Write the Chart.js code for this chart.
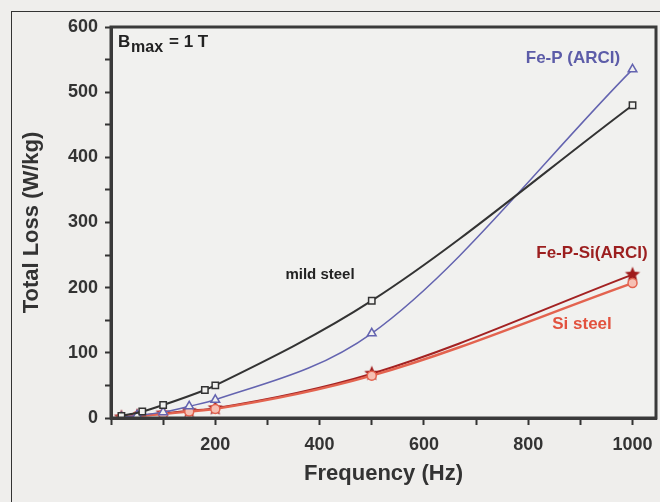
<!DOCTYPE html>
<html>
<head>
<meta charset="utf-8">
<script src="https://cdn.jsdelivr.net/npm/chart.js@4/dist/chart.umd.min.js"></script>
<style>
  html, body { margin: 0; padding: 0; background: #efeeec; }
  #wrap { width: 660px; height: 502px; }
</style>
</head>
<body>
<div id="wrap"><canvas id="lossChart" width="660" height="502"></canvas></div>
<script>
// measured total loss vs frequency, Bmax = 1 T
var freqMild   = [20, 60, 100, 180, 200, 500, 1000];
var lossMild   = [3, 10, 20, 43, 50, 180, 480];
var freqFeP    = [20, 50, 100, 150, 200, 500, 1000];
var lossFeP    = [1, 4, 9, 18, 28, 130, 535];
var freqFePSi  = [20, 50, 100, 150, 200, 500, 1000];
var lossFePSi  = [1, 3, 7, 11, 15, 68, 220];
var freqSi     = [20, 50, 100, 150, 200, 500, 1000];
var lossSi     = [1, 3, 6, 10, 14, 65, 207];

var xTickValues = [0, 100, 200, 300, 400, 500, 600, 700, 800, 900, 1000];
var yTickValues = [0, 50, 100, 150, 200, 250, 300, 350, 400, 450, 500, 550, 600];

var FONT = '"Liberation Sans", Arial, sans-serif';

function toPoints(xs, ys) {
  return xs.map(function(x, i){ return {x: x, y: ys[i]}; });
}

// filled star marker (chart.js 'star' is stroke only)
function makeStar(fill, r) {
  var c = document.createElement('canvas');
  c.width = c.height = r * 2 + 2;
  var g = c.getContext('2d');
  g.beginPath();
  for (var i = 0; i < 10; i++) {
    var a = -Math.PI / 2 + i * Math.PI / 5;
    var rr = i % 2 === 0 ? r : r * 0.45;
    g.lineTo(r + 1 + rr * Math.cos(a), r + 1 + rr * Math.sin(a));
  }
  g.closePath();
  g.fillStyle = fill;
  g.fill();
  return c;
}

var notes = [
  {text: 'Fe-P (ARCI)',    x: 573, y: 58,  color: '#5c5ca8', size: 17},
  {text: 'mild steel',     x: 320, y: 275, color: '#222222', size: 15},
  {text: 'Fe-P-Si(ARCI)',  x: 592, y: 253, color: '#9c1f1f', size: 17},
  {text: 'Si steel',       x: 582, y: 324, color: '#e2523e', size: 17}
];

var framePlugin = {
  id: 'frame',
  beforeDraw: function(chart) {
    var ctx = chart.ctx, a = chart.chartArea;
    ctx.save();
    ctx.fillStyle = '#efeeec';
    ctx.fillRect(0, 0, chart.width, chart.height);
    ctx.strokeStyle = '#333';
    ctx.lineWidth = 1;
    ctx.strokeRect(11.5, 11.5, 700, 600);
    ctx.fillStyle = '#f1f1ef';
    ctx.fillRect(a.left, a.top, a.right - a.left, a.bottom - a.top);
    ctx.restore();
  },
  afterDraw: function(chart) {
    var ctx = chart.ctx, a = chart.chartArea;
    ctx.save();
    ctx.strokeStyle = '#3a3a3a';
    ctx.lineWidth = 3;
    ctx.strokeRect(a.left, a.top, a.right - a.left, a.bottom - a.top);

    ctx.textAlign = 'center';
    ctx.textBaseline = 'middle';
    notes.forEach(function(n){
      ctx.font = 'bold ' + n.size + 'px ' + FONT;
      ctx.fillStyle = n.color;
      ctx.fillText(n.text, n.x, n.y);
    });

    // B_max = 1 T
    ctx.fillStyle = '#222';
    ctx.textAlign = 'left';
    ctx.font = 'bold 17px ' + FONT;
    ctx.fillText('B', a.left + 7, a.top + 15);
    ctx.font = 'bold 16px ' + FONT;
    ctx.fillText('max', a.left + 20, a.top + 21);
    ctx.font = 'bold 17px ' + FONT;
    ctx.fillText('= 1 T', a.left + 58, a.top + 15);
    ctx.restore();
  }
};

var ctx = document.getElementById('lossChart').getContext('2d');
new Chart(ctx, {
  type: 'line',
  data: {
    datasets: [{
      label: 'mild steel',
      data: toPoints(freqMild, lossMild),
      borderColor: '#333333',
      borderWidth: 2,
      pointStyle: 'rect',
      pointRadius: 4.5,
      pointBorderWidth: 1.5,
      pointBorderColor: '#333333',
      pointBackgroundColor: '#f1f1ef',
      cubicInterpolationMode: 'monotone'
    }, {
      label: 'Fe-P (ARCI)',
      data: toPoints(freqFeP, lossFeP),
      borderColor: '#6464b0',
      borderWidth: 1.5,
      pointStyle: 'triangle',
      pointRadius: 5,
      pointBorderWidth: 1.5,
      pointBorderColor: '#6464b0',
      pointBackgroundColor: '#f1f1ef',
      cubicInterpolationMode: 'monotone'
    }, {
      label: 'Si steel',
      data: toPoints(freqSi, lossSi),
      borderColor: '#e3634f',
      borderWidth: 2.5,
      pointStyle: 'circle',
      pointRadius: 4.5,
      pointBorderWidth: 1.5,
      pointBorderColor: '#e3634f',
      pointBackgroundColor: '#f6c0b4',
      cubicInterpolationMode: 'monotone'
    }, {
      label: 'Fe-P-Si(ARCI)',
      data: toPoints(freqFePSi, lossFePSi),
      borderColor: '#a32222',
      borderWidth: 2,
      pointStyle: makeStar('#a01c1c', 8),
      pointRadius: 8,
      cubicInterpolationMode: 'monotone'
    }]
  },
  options: {
    responsive: false,
    animation: false,
    layout: { autoPadding: false, padding: { left: 0, top: 27, right: 4, bottom: 0 } },
    plugins: {
      legend: { display: false },
      tooltip: { enabled: false }
    },
    scales: {
      x: {
        type: 'linear',
        min: 0,
        max: 1045,
        afterBuildTicks: function(s) {
          s.ticks = xTickValues.map(function(v){ return {value: v}; });
        },
        afterFit: function(s) {
          s.height = 84;
          s.paddingLeft = 0;
          s.paddingRight = 0;
        },
        grid: { drawOnChartArea: false, drawTicks: true, tickLength: 7, tickWidth: 2, tickColor: '#333' },
        border: { display: true, color: '#3a3a3a', width: 3 },
        ticks: {
          padding: 9,
          color: '#333',
          font: { family: FONT, size: 18, weight: 'bold' },
          maxRotation: 0,
          autoSkip: false,
          callback: function(v) { return (v > 0 && v % 200 === 0) ? v : ''; }
        },
        title: {
          display: true,
          text: 'Frequency (Hz)',
          color: '#333',
          font: { family: FONT, size: 22, weight: 'bold' },
          padding: { top: 4, bottom: 15 }
        }
      },
      y: {
        type: 'linear',
        min: 0,
        max: 600,
        afterBuildTicks: function(s) {
          s.ticks = yTickValues.map(function(v){ return {value: v}; });
        },
        afterFit: function(s) {
          s.width = 111;
          s.paddingTop = 0;
          s.paddingBottom = 0;
        },
        grid: { drawOnChartArea: false, drawTicks: true, tickLength: 6, tickWidth: 2, tickColor: '#333' },
        border: { display: true, color: '#3a3a3a', width: 3 },
        ticks: {
          padding: 7,
          color: '#333',
          font: { family: FONT, size: 18, weight: 'bold' },
          autoSkip: false,
          callback: function(v) { return v % 100 === 0 ? v : ''; }
        },
        title: {
          display: true,
          text: 'Total Loss (W/kg)',
          color: '#333',
          font: { family: FONT, size: 22, weight: 'bold' },
          padding: { top: 19, bottom: 4 }
        }
      }
    }
  },
  plugins: [framePlugin]
});
</script>
</body>
</html>
